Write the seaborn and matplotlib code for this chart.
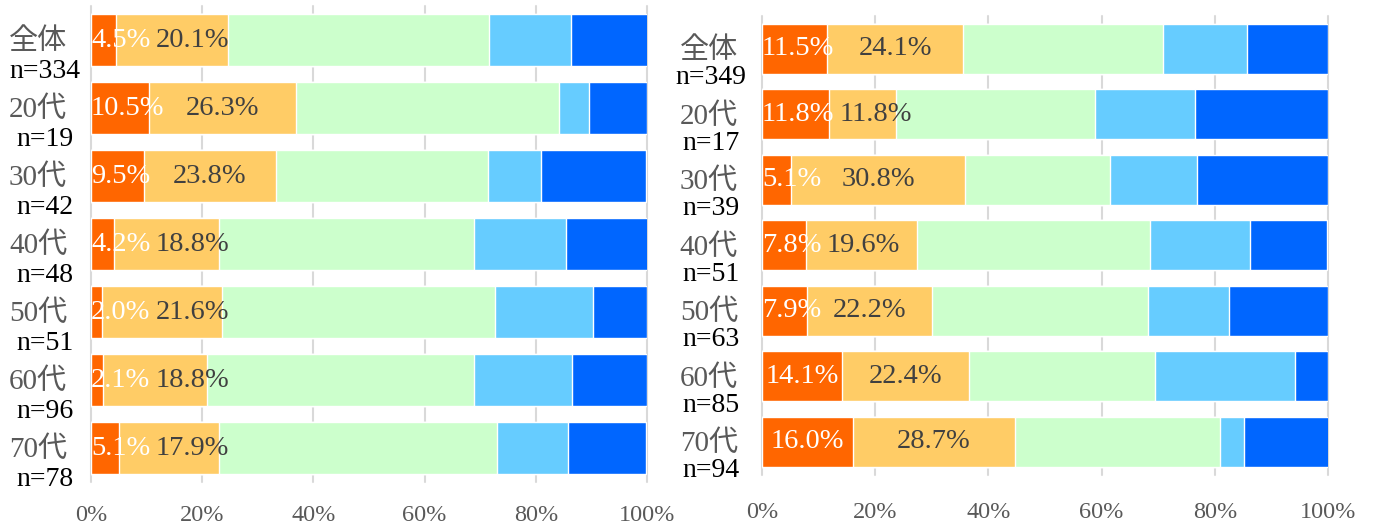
import numpy as np
import matplotlib
matplotlib.use("Agg")
import matplotlib.pyplot as plt
import seaborn as sns

# -------------------------
# data (percent of respondents, per age group)
# -------------------------
cats = ["全体", "20代", "30代", "40代", "50代", "60代", "70代"]

left_n = [334, 19, 42, 48, 51, 96, 78]
left_s1 = [4.5, 10.5, 9.5, 4.2, 2.0, 2.1, 5.1]
left_s2 = [20.1, 26.3, 23.8, 18.8, 21.6, 18.8, 17.9]
left_s3 = [47.0, 47.4, 38.1, 45.8, 49.0, 47.9, 50.0]
left_s4 = [14.7, 5.3, 9.5, 16.7, 17.6, 17.7, 12.8]
left_s5 = [13.8, 10.5, 19.0, 14.6, 9.8, 13.5, 14.1]

right_n = [349, 17, 39, 51, 63, 85, 94]
right_s1 = [11.5, 11.8, 5.1, 7.8, 7.9, 14.1, 16.0]
right_s2 = [24.1, 11.8, 30.8, 19.6, 22.2, 22.4, 28.7]
right_s3 = [35.2, 35.3, 25.6, 41.2, 38.1, 32.9, 36.2]
right_s4 = [14.9, 17.6, 15.4, 17.6, 14.3, 24.7, 4.3]
right_s5 = [14.3, 23.5, 23.1, 13.7, 17.5, 5.9, 14.9]

colors = ["#FF6600", "#FFCC66", "#CCFFCC", "#66CCFF", "#0066FF"]

sns.set_style("white")
plt.rcParams["font.family"] = ["Liberation Serif", "Noto Sans CJK JP"]

fig = plt.figure(figsize=(13.76, 5.27), dpi=100)
ax_l = fig.add_axes([91 / 1376, 45 / 527, 556 / 1376, 476 / 527])
ax_r = fig.add_axes([762 / 1376, 52.5 / 527, 566 / 1376, 458.5 / 527])


def draw_panel(ax, ns, parts, tick_pad, n_dx, n_dy):
    cum = np.cumsum(np.array(parts), axis=0)
    # stacked bars: draw the longest cumulative first
    for k in reversed(range(len(parts))):
        sns.barplot(x=cum[k], y=cats, order=cats, orient="h", color=colors[k],
                    saturation=1, width=0.77, errorbar=None, ax=ax)

    ax.set_xlim(0, 100)
    ax.set_xticks(range(0, 101, 20))
    ax.set_xticklabels([f"{v}%" for v in range(0, 101, 20)])
    ax.tick_params(axis="x", length=0, pad=tick_pad, labelsize=17.5, labelcolor="#595959")
    ax.set_yticks([])
    ax.set_xlabel("")
    ax.set_ylabel("")
    ax.grid(axis="x", color="#D9D9D9", lw=1.5)
    ax.set_axisbelow(True)
    for gl in ax.get_xgridlines():
        gl.set_clip_on(False)
    for sp in ax.spines.values():
        sp.set_visible(False)

    # category labels with sample sizes
    for i, (c, n) in enumerate(zip(cats, ns)):
        ax.annotate(c, xy=(0, i), xycoords=("axes fraction", "data"), xytext=(-53, -2),
                    textcoords="offset pixels", ha="center", va="center",
                    fontsize=21, color="#595959")
        ax.annotate(f"n={n}", xy=(0, i), xycoords=("axes fraction", "data"),
                    xytext=(n_dx, n_dy), textcoords="offset pixels", ha="center",
                    va="center", fontsize=20, color="black")

    # value labels on the first two segments
    s1, s2 = parts[0], parts[1]
    t1 = [ax.text(v / 2, i, f"{v:.1f}%", color="white", ha="center", va="center", fontsize=20.5)
          for i, v in enumerate(s1)]
    t2 = [ax.text(a + b / 2, i, f"{b:.1f}%", color="#404040", ha="center", va="center", fontsize=20.5)
          for i, (a, b) in enumerate(zip(s1, s2))]
    fig.canvas.draw()
    r = fig.canvas.get_renderer()
    inv = ax.transData.inverted()
    x_left = ax.transData.transform((0, 0))[0]
    for i in range(len(cats)):
        bb = t1[i].get_window_extent(r)
        shift = max(0, x_left - bb.x0)
        cx = (bb.x0 + bb.x1) / 2 + shift
        t1[i].set_x(inv.transform((cx, 0))[0])
        right1 = bb.x1 + shift
        bb2 = t2[i].get_window_extent(r)
        shift2 = max(0, right1 + 5 - bb2.x0)
        cx2 = (bb2.x0 + bb2.x1) / 2 + shift2
        t2[i].set_x(inv.transform((cx2, 0))[0])


draw_panel(ax_l, left_n, [left_s1, left_s2, left_s3, left_s4, left_s5], 16.5, -46, -31)
draw_panel(ax_r, right_n, [right_s1, right_s2, right_s3, right_s4, right_s5], 19.5, -51, -29)

fig.savefig("out.png", dpi=100)
